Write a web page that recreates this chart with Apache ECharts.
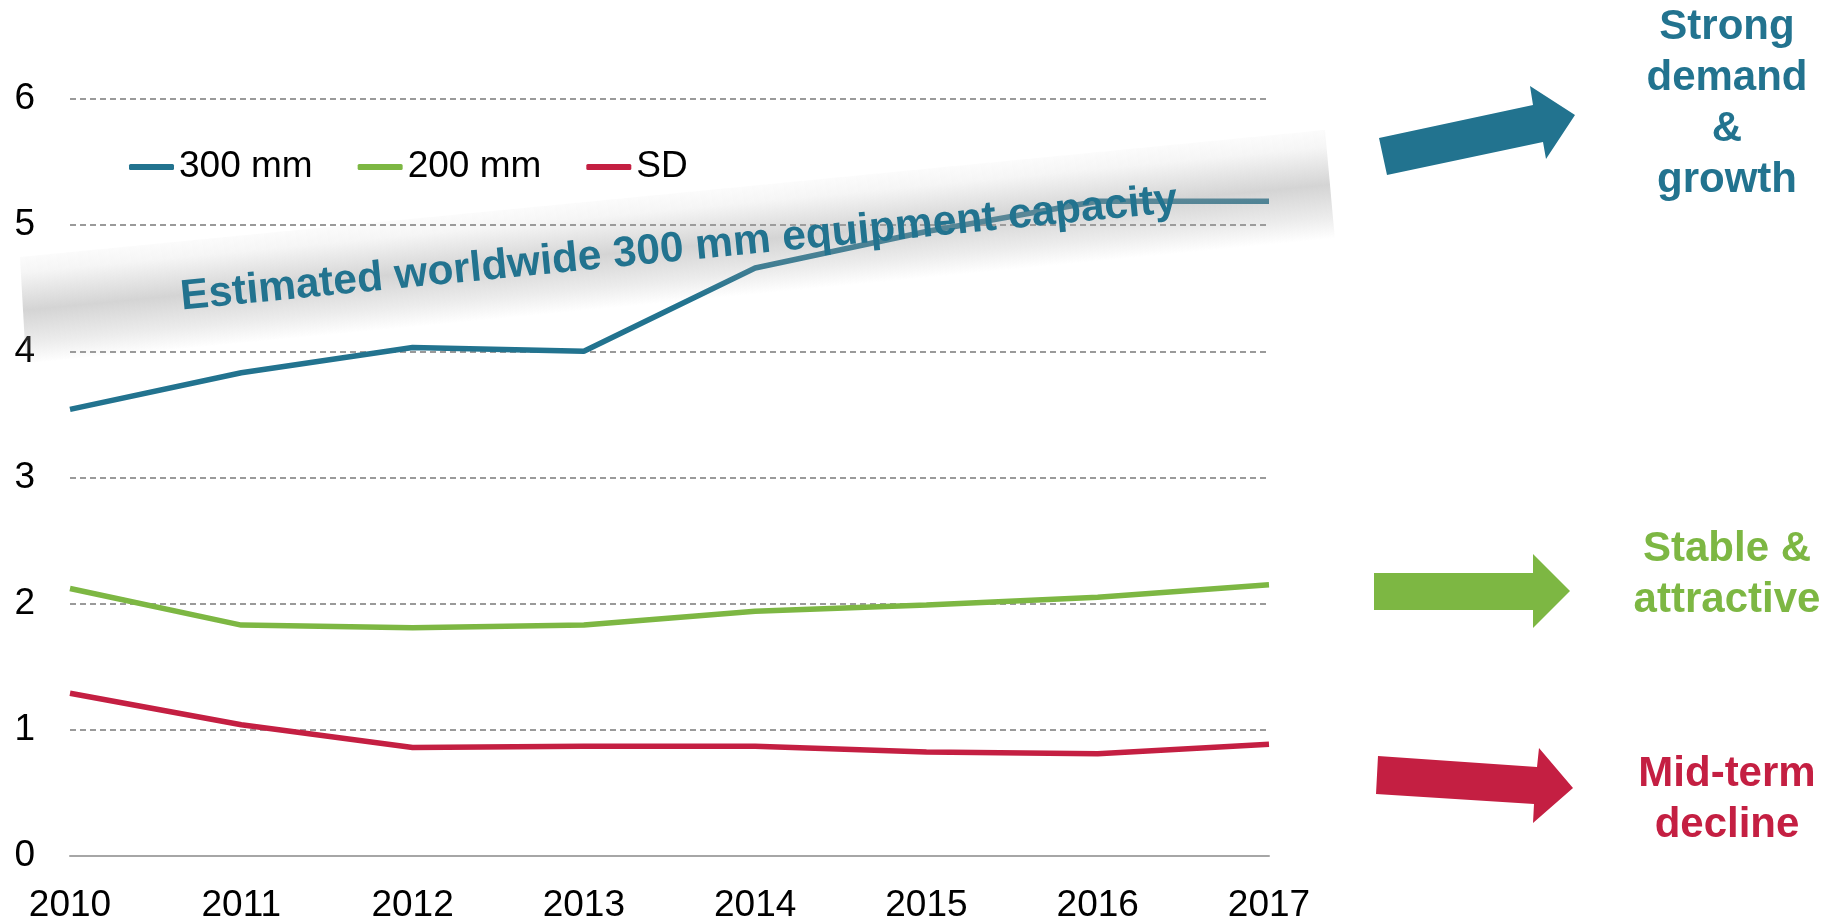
<!DOCTYPE html>
<html>
<head>
<meta charset="utf-8">
<title>Wafer capacity outlook</title>
<script src="https://cdn.jsdelivr.net/npm/echarts@6/dist/echarts.min.js"></script>
<style>
html, body { margin: 0; padding: 0; background: #fff; }
#chart { width: 1834px; height: 924px; }
</style>
</head>
<body>
<div id="chart"></div>
<script>
const years = ['2010', '2011', '2012', '2013', '2014', '2015', '2016', '2017']
const wafer300 = [3.54, 3.83, 4.03, 4.00, 4.66, 4.95, 5.19, 5.19]
const wafer200 = [2.12, 1.83, 1.81, 1.83, 1.94, 1.99, 2.05, 2.15]
const waferSD = [1.29, 1.04, 0.86, 0.87, 0.87, 0.825, 0.81, 0.885]
const seriesNames = ['300 mm', '200 mm', 'SD']
const yMin = 0
const yMax = 6
const yStep = 1
const bandLabel = 'Estimated worldwide 300 mm equipment capacity'
const outlookLabels = ['Strong\ndemand\n&\ngrowth', 'Stable &\nattractive', 'Mid-term\ndecline']

const TEAL = '#22738f'
const GREEN = '#7db743'
const RED = '#c41f42'
const FONT = '"Liberation Sans", Arial, Helvetica, sans-serif'

const chart = echarts.init(document.getElementById('chart'))

// grey shaded ribbon behind the annotation text
const bandPts = [[20, 257], [1325, 130], [1335, 240], [26, 363]]
const bandAngle = 5.5 * Math.PI / 180
const cx = bandPts.reduce((s, p) => s + p[0], 0) / 4
const cy = bandPts.reduce((s, p) => s + p[1], 0) / 4
const nx = Math.sin(bandAngle)
const ny = Math.cos(bandAngle)
const half = 54
const bandFill = new echarts.graphic.LinearGradient(
    cx - nx * half, cy - ny * half, cx + nx * half, cy + ny * half,
    [
        { offset: 0, color: 'rgba(160,160,160,0.04)' },
        { offset: 0.15, color: 'rgba(160,160,160,0.1)' },
        { offset: 0.5, color: 'rgba(160,160,160,0.45)' },
        { offset: 0.8, color: 'rgba(160,160,160,0.2)' },
        { offset: 1, color: 'rgba(160,160,160,0)' },
    ],
    true
)

const arrowTeal = [[1379, 138], [1533, 105], [1530, 86], [1575, 115], [1546, 159], [1543, 142], [1387, 175]]
const arrowGreen = [[1374, 573], [1533, 573], [1533, 554], [1570, 591], [1533, 628], [1533, 610], [1374, 610]]
const arrowRed = [[1378, 756], [1537, 767], [1539, 748], [1573, 788], [1533, 823], [1534, 804], [1376, 794]]

const sideText = (text, y, color) => ({
    type: 'text',
    x: 1727,
    y: y,
    z: 20,
    style: {
        text: text,
        fill: color,
        font: 'bold 42px ' + FONT,
        lineHeight: 51,
        align: 'center',
        verticalAlign: 'middle',
        textAlign: 'center',
        textVerticalAlign: 'middle',
    },
})

const lineSeries = (name, data, color) => ({
    name: name,
    type: 'line',
    data: data,
    symbol: 'none',
    lineStyle: { width: 5.5, color: color },
    itemStyle: { color: color },
    z: 3,
})

chart.setOption({
    animation: false,
    textStyle: { fontFamily: FONT },
    grid: {
        left: 70,
        right: 565,
        top: 99,
        bottom: 66,
    },
    legend: {
        left: 129,
        top: 148,
        padding: 0,
        icon: 'roundRect',
        itemWidth: 45,
        itemHeight: 6,
        itemGap: 45,
        data: seriesNames,
        textStyle: {
            fontSize: 37,
            lineHeight: 38,
            color: '#000',
            fontFamily: FONT,
        },
    },
    xAxis: {
        type: 'category',
        data: years,
        boundaryGap: false,
        axisTick: { show: false },
        axisLine: { lineStyle: { color: '#a6a6a6', width: 2 } },
        axisLabel: { color: '#000', fontSize: 37, margin: 31, fontFamily: FONT },
    },
    yAxis: {
        type: 'value',
        min: yMin,
        max: yMax,
        interval: yStep,
        axisLine: { show: false },
        axisTick: { show: false },
        axisLabel: { color: '#000', fontSize: 37, margin: 35, fontFamily: FONT },
        splitLine: {
            lineStyle: { color: '#9a9a9a', width: 2, type: [6, 4] },
        },
    },
    series: [
        lineSeries(seriesNames[0], wafer300, TEAL),
        lineSeries(seriesNames[1], wafer200, GREEN),
        lineSeries(seriesNames[2], waferSD, RED),
    ],
    graphic: [
        {
            type: 'polygon',
            z: 10,
            shape: { points: bandPts },
            style: { fill: bandFill },
            silent: true,
        },
        {
            type: 'text',
            x: 679,
            y: 249,
            z: 12,
            rotation: 5.6 * Math.PI / 180,
            style: {
                text: bandLabel,
                fill: TEAL,
                font: 'bold 42.5px ' + FONT,
                align: 'center',
                verticalAlign: 'middle',
                textAlign: 'center',
                textVerticalAlign: 'middle',
            },
        },
        { type: 'polygon', z: 20, shape: { points: arrowTeal }, style: { fill: TEAL } },
        { type: 'polygon', z: 20, shape: { points: arrowGreen }, style: { fill: GREEN } },
        { type: 'polygon', z: 20, shape: { points: arrowRed }, style: { fill: RED } },
        sideText(outlookLabels[0], 104, TEAL),
        sideText(outlookLabels[1], 575, GREEN),
        sideText(outlookLabels[2], 800, RED),
    ],
})

window.addEventListener('resize', () => chart.resize())
</script>
</body>
</html>
